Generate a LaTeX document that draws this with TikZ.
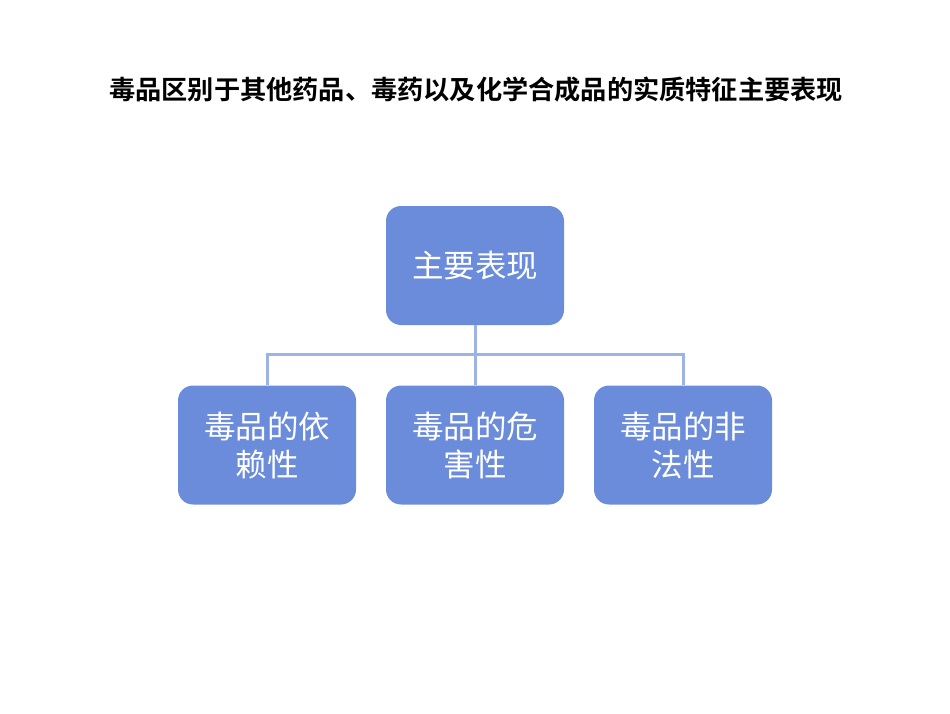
\documentclass[tikz,border=0pt]{standalone}
\usepackage{fontspec}
\usepackage{xcolor}
\setmainfont{Noto Sans CJK SC}
\newfontfamily\cjk{Noto Sans CJK SC}
\newfontfamily\cjkbold{Noto Sans CJK SC Bold}
\usetikzlibrary{positioning}
\definecolor{boxblue}{HTML}{6B8CDB}
\definecolor{linkblue}{HTML}{9DB3E8}

\begin{document}
\begin{tikzpicture}[x=1pt, y=-1pt,
  blk/.style={fill=boxblue, rounded corners=15pt, minimum width=178pt, minimum height=119pt,
    align=center, text=white, inner sep=0pt, font=\cjk\fontsize{31.5pt}{38pt}\selectfont},
  conn/.style={draw=linkblue, line width=3pt}]
\useasboundingbox (0,0) rectangle (950,713);
\node[font=\cjkbold\fontsize{26.2pt}{30pt}\selectfont] (title) at (476,90)
  {毒品区别于其他药品、毒药以及化学合成品的实质特征主要表现};
\node[blk] (top) at (475,265.5) {主要表现};
\node[blk] (harm) at (475,445) {毒品的危\\害性};
\node[blk] (dep) at (267,445) {毒品的依\\赖性};
\node[blk] (illeg) at (683,445) {毒品的非\\法性};
\coordinate (bus) at (475,354);
\draw[conn] (top.south) -- (harm.north);
\draw[conn] (dep.north) |- (bus) -| (illeg.north);
\end{tikzpicture}
\end{document}
